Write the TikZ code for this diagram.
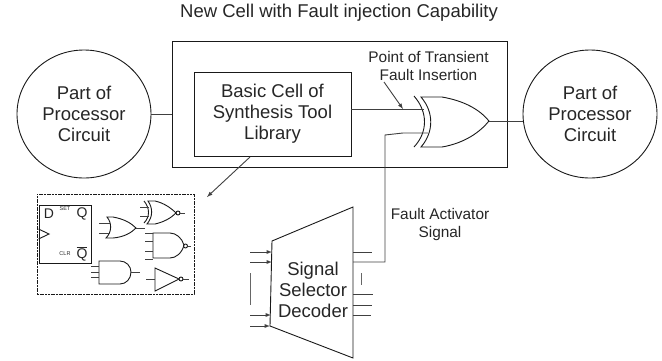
\documentclass[tikz,border=0pt]{standalone}
\usepackage{fontspec}
\usetikzlibrary{shapes.geometric}
\setmainfont{Liberation Sans}
\tikzset{
    wire/.style={line width=0.9pt,black!75},
    gate/.style={line width=0.9pt,black!90},
    blocktext/.style={align=center,font=\fontsize{18.5}{21}\selectfont,text=black!85},
    smalltext/.style={align=center,font=\fontsize{15.4}{18}\selectfont,text=black!85},
    partoval/.style={draw,gate,ellipse,minimum width=134pt,minimum height=128pt,inner sep=0pt,blocktext},
    fftext/.style={font=\fontsize{14}{14}\selectfont,inner sep=0pt,text=black!85},
    fftiny/.style={font=\fontsize{5.5}{6}\selectfont,inner sep=0pt,text=black!85},
}
\begin{document}
\begin{tikzpicture}[x=1pt,y=-1pt]
    \useasboundingbox (0,0) rectangle (662,360);
    %% Title
    \node[font=\fontsize{18.5}{22}\selectfont,text=black!85] (title) at (339,13) {New Cell with Fault injection Capability};
    %% Circuit parts and the cell
    \node[partoval] (leftpart) at (84,114) {Part of\\Processor\\Circuit};
    \node[partoval] (rightpart) at (590,114) {Part of\\Processor\\Circuit};
    \node[draw,gate,minimum width=335pt,minimum height=126pt,inner sep=0pt] (newcell) at (339.5,104) {};
    \node[draw,gate,minimum width=157pt,minimum height=84pt,inner sep=0pt,blocktext] (basiccell) at (272.5,114) {Basic Cell of\\Synthesis Tool\\Library};
    \draw[wire] (leftpart.east) -- (leftpart.east -| newcell.west);
    %% XOR gate at the insertion point
    \coordinate (xortip) at (489,121);
    \coordinate (xorin) at (424,109);
    \coordinate (xorsel) at (428,133);
    \coordinate (selbend) at (385,135);
    \draw[gate] (421,97) -- (442,97) .. controls (465,101) and (480,110) .. (xortip)
        .. controls (480,132) and (465,143) .. (442,147) -- (421,147)
        .. controls (434,132) and (434,112) .. cycle;
    \draw[gate] (414,96) .. controls (428,112) and (428,132) .. (414,147);
    \draw[wire] (basiccell.east |- xorin) -- (xorin);
    \draw[wire] (xortip) -- (xortip -| rightpart.west);
    %% Insertion label
    \node[smalltext] (pointlabel) at (428.5,66) {Point of Transient\\Fault Insertion};
    \coordinate (pointtip) at (403,109);
    \draw[wire,-latex] (384,82) -- (pointtip);
    %% Decoder
    \coordinate (dectl) at (272,241);
    \coordinate (dectr) at (353,207);
    \coordinate (decbr) at (353,358);
    \coordinate (decbl) at (270,326);
    \draw[gate] (dectl) -- (dectr) -- (decbr) -- (decbl) -- cycle;
    \node[blocktext,inner sep=0pt] (decoder) at (313,290) {Signal\\Selector\\Decoder};
    \draw[wire,-latex] (250,252) -- (272,252);
    \draw[wire,-latex] (250,262) -- (272,262);
    \draw[wire,-latex] (250,315) -- (271,315);
    \draw[wire,-latex] (250,326) -- (270,326);
    \draw[wire,black!60] (250,273) -- (250,305);
    \draw[wire] (353,252) -- (372,252);
    \draw[wire] (353,294) -- (373,294);
    \draw[wire] (353,305) -- (372,305);
    \draw[wire] (353,315) -- (371,315);
    \draw[wire,black!60] (361,273) -- (361,285);
    %% Fault activator line
    \draw[wire] (353,262) -- (385,262) -- (selbend) -- (403,133) -- (xorsel);
    \node[smalltext] (activator) at (440,225) {Fault Activator\\Signal};
    %% Library of cells
    \node[draw,gate,dash pattern=on 2pt off 0.7pt,minimum width=157pt,minimum height=100pt,inner sep=0pt] (library) at (115.5,244) {};
    \draw[wire,-latex] (250,157) -- (207,197);
    %% Flip flop
    \node[draw,gate,minimum width=52pt,minimum height=58pt,inner sep=0pt] (flipflop) at (65,234) {};
    \draw[gate] (flipflop.west |- 0,229) -- (49,234) -- (flipflop.west |- 0,239);
    \node[fftext] (ffd) at (49,214) {D};
    \node[fftext] (ffq) at (82,214) {Q};
    \node[fftext] (ffnq) at (82,254) {$\overline{\mbox{Q}}$};
    \node[fftiny] (ffset) at (65,209) {SET};
    \node[fftiny] (ffclr) at (65,254) {CLR};
    %% OR gate
    \draw[gate] (107,217) -- (113,217) .. controls (124,219) and (131,223) .. (136,228)
        .. controls (131,233) and (124,237) .. (113,238) -- (106,238)
        .. controls (112,232) and (112,223) .. cycle;
    \foreach \yy in {223,233} {
        \draw[wire] (99,\yy) -- (110,\yy);
    }
    \draw[wire] (136,228) -- (145,228);
    %% XNOR gate
    \draw[gate] (148,201) -- (155,201) .. controls (164,203) and (171,208) .. (176,213)
        .. controls (171,218) and (164,222) .. (155,224) -- (147,224)
        .. controls (153,217) and (153,208) .. cycle;
    \draw[gate] (144,201) .. controls (150,208) and (150,217) .. (144,223);
    \draw[gate] (178,213) circle (2);
    \foreach \yy in {207,216} {
        \draw[wire] (140,\yy) -- (149,\yy);
    }
    \draw[wire] (180,213) -- (185,213);
    %% NAND gate
    \draw[gate] (153,233) -- (170,233) .. controls (176,233) and (182,238) .. (184,245)
        .. controls (182,253) and (176,258) .. (170,258) -- (153,258) -- cycle;
    \draw[gate] (185.5,246) circle (2);
    \foreach \yy in {233,241,251,259} {
        \draw[wire] (145,\yy) -- (153,\yy);
    }
    \draw[wire] (188,246) -- (191,246);
    %% AND gate
    \draw[gate] (99,261) -- (120,261) .. controls (126,261) and (131,266) .. (131,272)
        .. controls (131,279) and (126,284) .. (120,284) -- (99,284) -- cycle;
    \foreach \yy in {266,272,277} {
        \draw[wire] (91,\yy) -- (99,\yy);
    }
    \draw[wire] (131,272) -- (140,272);
    %% NOT gate
    \draw[gate] (155,268) -- (179,279) -- (155,291) -- cycle;
    \draw[gate] (181,279) circle (2);
    \draw[wire] (146,279) -- (155,279);
    \draw[wire] (183,279) -- (189,279);
\end{tikzpicture}
\end{document}
